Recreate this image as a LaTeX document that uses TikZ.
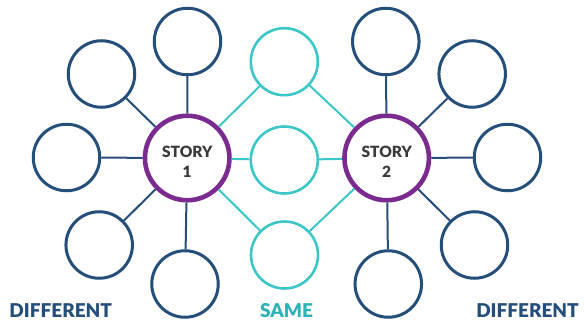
\documentclass[tikz,border=0pt]{standalone}
\usepackage{fontspec}
\setmainfont{Lato}
\newfontfamily\heavyfont{Lato Black}
\definecolor{navy}{HTML}{264E7A}
\definecolor{teal2}{HTML}{3CC6C8}
\definecolor{tealtxt}{HTML}{2BB3B5}
\definecolor{purp}{HTML}{7B2A8F}
\definecolor{txtgray}{HTML}{3A3A3A}
\begin{document}
\begin{tikzpicture}[x=1pt,y=-1pt,
  diff/.style={circle,draw=navy,line width=3pt,minimum size=66.5pt,inner sep=0pt},
  same/.style={circle,draw=teal2,line width=2.6pt,minimum size=67pt,inner sep=0pt},
  story/.style={circle,draw=purp,line width=4.6pt,minimum size=84.5pt,inner sep=0pt},
  storytext/.style={align=center,inner sep=0pt,
     font=\fontsize{15.5}{19.5}\selectfont\heavyfont,text=txtgray},
  nline/.style={draw=navy,line width=2pt},
  tline/.style={draw=teal2,line width=2pt},
  lab/.style={font=\fontsize{19}{22}\selectfont\heavyfont,anchor=base,inner sep=0pt}]
\useasboundingbox (0,0) rectangle (584,321);
\node[story] (s1) at (187.2,158) {};
\node[story] (s2) at (386.7,158) {};
\node[storytext] (s1t) at ([yshift=-4pt]s1.center) {STORY\\1};
\node[storytext] (s2t) at ([yshift=-4pt]s2.center) {STORY\\2};
\node[diff] (a1) at (187.5,41.5) {};
\node[diff] (a2) at (101.5,74) {};
\node[diff] (a3) at (66.5,157.5) {};
\node[diff] (a4) at (99.2,245) {};
\node[diff] (a5) at (185,284) {};
\node[diff] (b1) at (385.8,41.5) {};
\node[diff] (b2) at (472.2,74) {};
\node[diff] (b3) at (507.5,157.5) {};
\node[diff] (b4) at (474.5,245) {};
\node[diff] (b5) at (388.3,284) {};
\node[same] (t1) at (284.3,61.7) {};
\node[same] (t2) at (284.3,160) {};
\node[same] (t3) at (284.5,255) {};
\foreach \n in {a1,a2,a3,a4,a5} \draw[nline] (s1) -- (\n);
\foreach \n in {b1,b2,b3,b4,b5} \draw[nline] (s2) -- (\n);
\foreach \n in {t1,t2,t3} {\draw[tline] (s1) -- (\n); \draw[tline] (s2) -- (\n);}
\node[lab,text=navy] (l1) at (60.7,317.8) {DIFFERENT};
\node[lab,text=tealtxt] (l2) at (286.5,317.8) {SAME};
\node[lab,text=navy] (l3) at (527.5,317.8) {DIFFERENT};
\end{tikzpicture}
\end{document}
